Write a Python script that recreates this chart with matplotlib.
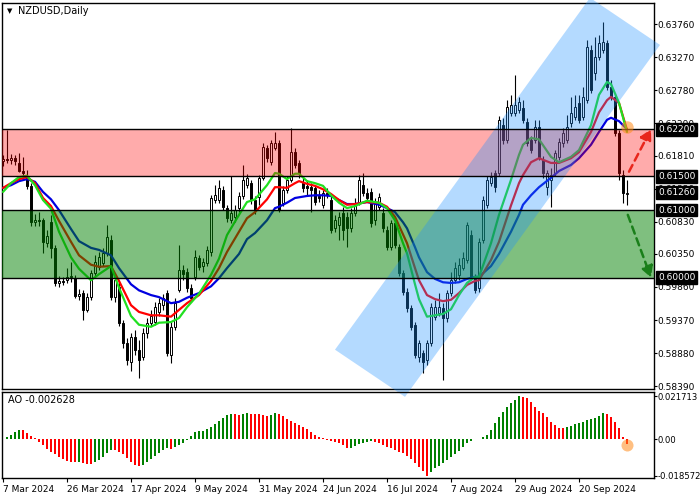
import matplotlib
matplotlib.use("Agg")
import matplotlib.pyplot as plt
import numpy as np
from matplotlib.patches import Polygon
from matplotlib.transforms import blended_transform_factory

# ---------------- data ----------------
date_labels = ["7 Mar 2024", "26 Mar 2024", "17 Apr 2024", "9 May 2024", "31 May 2024",
               "24 Jun 2024", "16 Jul 2024", "7 Aug 2024", "29 Aug 2024", "20 Sep 2024"]
date_label_bars = [0, 16, 32, 48, 64, 80, 96, 112, 128, 144]

opens = [0.6173, 0.6176, 0.6174, 0.6177, 0.6170, 0.6158, 0.6151, 0.6136, 0.6082, 0.6085,
         0.6085, 0.6051, 0.6082, 0.6044, 0.5992, 0.5995, 0.5996, 0.6001, 0.5999, 0.5973,
         0.5977, 0.5952, 0.5971, 0.6007, 0.6016, 0.6022, 0.6036, 0.6056, 0.5971, 0.5986,
         0.5933, 0.5903, 0.5875, 0.5912, 0.5893, 0.5882, 0.5918, 0.5933, 0.5934, 0.5949,
         0.5959, 0.5977, 0.5885, 0.5927, 0.5982, 0.6011, 0.6008, 0.5985, 0.6001, 0.6029,
         0.6017, 0.6022, 0.6038, 0.6115, 0.6115, 0.6130, 0.6103, 0.6085, 0.6090, 0.6103,
         0.6121, 0.6137, 0.6140, 0.6115, 0.6119, 0.6148, 0.6192, 0.6171, 0.6192, 0.6200,
         0.6111, 0.6130, 0.6145, 0.6186, 0.6170, 0.6140, 0.6136, 0.6134, 0.6133, 0.6121,
         0.6108, 0.6125, 0.6115, 0.6073, 0.6078, 0.6096, 0.6090, 0.6073, 0.6096, 0.6112,
         0.6137, 0.6125, 0.6127, 0.6085, 0.6105, 0.6096, 0.6071, 0.6045, 0.6081, 0.6045,
         0.6007, 0.5979, 0.5955, 0.5930, 0.5882, 0.5888, 0.5878, 0.5903, 0.5942, 0.5947,
         0.5955, 0.5940, 0.5977, 0.5996, 0.6004, 0.6014, 0.6026, 0.6063, 0.6001, 0.5985,
         0.6056, 0.6108, 0.6140, 0.6155, 0.6155, 0.6226, 0.6204, 0.6244, 0.6244, 0.6248,
         0.6251, 0.6231, 0.6204, 0.6204, 0.6223, 0.6174, 0.6134, 0.6145, 0.6155, 0.6179,
         0.6200, 0.6204, 0.6229, 0.6238, 0.6259, 0.6238, 0.6263, 0.6337, 0.6303, 0.6327,
         0.6337, 0.6348, 0.6283, 0.6268, 0.6214, 0.6152, 0.6124]
closes = [0.6176, 0.6174, 0.6177, 0.6173, 0.6158, 0.6155, 0.6136, 0.6082, 0.6085, 0.6084,
          0.6053, 0.6062, 0.6044, 0.5992, 0.5995, 0.5993, 0.6001, 0.6002, 0.5973, 0.5976,
          0.5952, 0.5971, 0.6007, 0.6023, 0.6030, 0.6036, 0.6060, 0.5971, 0.5996, 0.5933,
          0.5903, 0.5878, 0.5912, 0.5893, 0.5878, 0.5918, 0.5933, 0.5943, 0.5956, 0.5962,
          0.5970, 0.5888, 0.5927, 0.5962, 0.6011, 0.6005, 0.5985, 0.5970, 0.6030, 0.6016,
          0.6023, 0.6041, 0.6118, 0.6122, 0.6133, 0.6105, 0.6088, 0.6096, 0.6100, 0.6121,
          0.6145, 0.6148, 0.6115, 0.6100, 0.6148, 0.6194, 0.6177, 0.6200, 0.6200, 0.6100,
          0.6130, 0.6145, 0.6186, 0.6167, 0.6155, 0.6133, 0.6133, 0.6130, 0.6112, 0.6118,
          0.6125, 0.6122, 0.6071, 0.6085, 0.6090, 0.6071, 0.6073, 0.6096, 0.6111, 0.6145,
          0.6125, 0.6118, 0.6081, 0.6111, 0.6119, 0.6073, 0.6045, 0.6081, 0.6048, 0.6007,
          0.5979, 0.5955, 0.5927, 0.5885, 0.5903, 0.5875, 0.5903, 0.5956, 0.5956, 0.5956,
          0.5940, 0.5977, 0.5996, 0.6014, 0.6019, 0.6029, 0.6078, 0.6001, 0.5982, 0.6053,
          0.6115, 0.6145, 0.6149, 0.6134, 0.6234, 0.6204, 0.6253, 0.6256, 0.6256, 0.6260,
          0.6234, 0.6200, 0.6189, 0.6223, 0.6179, 0.6155, 0.6155, 0.6152, 0.6185, 0.6201,
          0.6214, 0.6223, 0.6244, 0.6253, 0.6234, 0.6268, 0.6342, 0.6278, 0.6327, 0.6348,
          0.6349, 0.6283, 0.6268, 0.6214, 0.6155, 0.6125, 0.6126]
highs = [0.6182, 0.6219, 0.6183, 0.6182, 0.6185, 0.6179, 0.6159, 0.6140, 0.6094, 0.6097,
         0.6088, 0.6071, 0.6093, 0.6048, 0.6002, 0.6001, 0.6014, 0.6023, 0.6004, 0.5983,
         0.5982, 0.5977, 0.6011, 0.6033, 0.6038, 0.6044, 0.6078, 0.6063, 0.6004, 0.5993,
         0.5937, 0.5910, 0.5918, 0.5922, 0.5907, 0.5925, 0.5940, 0.5952, 0.5964, 0.5970,
         0.5976, 0.5982, 0.5934, 0.5970, 0.6048, 0.6019, 0.6014, 0.5990, 0.6041, 0.6033,
         0.6029, 0.6047, 0.6122, 0.6137, 0.6145, 0.6136, 0.6108, 0.6151, 0.6108, 0.6127,
         0.6167, 0.6154, 0.6145, 0.6121, 0.6152, 0.6200, 0.6197, 0.6204, 0.6216, 0.6204,
         0.6136, 0.6151, 0.6222, 0.6192, 0.6174, 0.6148, 0.6145, 0.6140, 0.6137, 0.6130,
         0.6130, 0.6133, 0.6121, 0.6093, 0.6097, 0.6105, 0.6097, 0.6103, 0.6118, 0.6152,
         0.6155, 0.6133, 0.6133, 0.6118, 0.6125, 0.6103, 0.6076, 0.6085, 0.6085, 0.6050,
         0.6011, 0.5985, 0.5959, 0.5934, 0.5907, 0.5893, 0.5907, 0.5962, 0.5967, 0.5977,
         0.5962, 0.5982, 0.6008, 0.6023, 0.6029, 0.6038, 0.6082, 0.6071, 0.6005, 0.6059,
         0.6121, 0.6151, 0.6157, 0.6159, 0.6240, 0.6237, 0.6263, 0.6271, 0.6300, 0.6268,
         0.6263, 0.6237, 0.6210, 0.6234, 0.6234, 0.6180, 0.6159, 0.6162, 0.6189, 0.6207,
         0.6222, 0.6241, 0.6268, 0.6271, 0.6271, 0.6283, 0.6352, 0.6345, 0.6357, 0.6360,
         0.6379, 0.6352, 0.6293, 0.6274, 0.6219, 0.6159, 0.6145]
lows = [0.6165, 0.6170, 0.6168, 0.6167, 0.6157, 0.6149, 0.6131, 0.6076, 0.6076, 0.6076,
        0.6036, 0.6045, 0.6029, 0.5987, 0.5986, 0.5989, 0.5992, 0.5993, 0.5970, 0.5967,
        0.5937, 0.5949, 0.5967, 0.6002, 0.6011, 0.6017, 0.6032, 0.5967, 0.5964, 0.5928,
        0.5896, 0.5870, 0.5861, 0.5885, 0.5851, 0.5878, 0.5910, 0.5928, 0.5930, 0.5943,
        0.5952, 0.5884, 0.5873, 0.5922, 0.5979, 0.5996, 0.5979, 0.5964, 0.5996, 0.6011,
        0.6008, 0.6017, 0.6032, 0.6111, 0.6111, 0.6100, 0.6082, 0.6081, 0.6082, 0.6097,
        0.6116, 0.6133, 0.6109, 0.6094, 0.6108, 0.6145, 0.6171, 0.6167, 0.6189, 0.6097,
        0.6106, 0.6125, 0.6142, 0.6162, 0.6148, 0.6127, 0.6122, 0.6097, 0.6108, 0.6112,
        0.6103, 0.6118, 0.6066, 0.6068, 0.6056, 0.6056, 0.6045, 0.6068, 0.6091, 0.6108,
        0.6121, 0.6114, 0.6075, 0.6078, 0.6100, 0.6068, 0.6041, 0.6041, 0.6044, 0.6002,
        0.5974, 0.5949, 0.5922, 0.5881, 0.5875, 0.5858, 0.5870, 0.5898, 0.5937, 0.5943,
        0.5848, 0.5934, 0.5973, 0.5992, 0.5996, 0.6011, 0.6022, 0.5996, 0.5977, 0.5979,
        0.6051, 0.6103, 0.6136, 0.6127, 0.6151, 0.6198, 0.6200, 0.6240, 0.6240, 0.6244,
        0.6229, 0.6195, 0.6185, 0.6200, 0.6174, 0.6148, 0.6122, 0.6105, 0.6151, 0.6174,
        0.6194, 0.6200, 0.6223, 0.6234, 0.6229, 0.6234, 0.6259, 0.6274, 0.6293, 0.6323,
        0.6333, 0.6278, 0.6263, 0.6210, 0.6145, 0.6111, 0.6108]

# moving-average lines (green fast, red medium, blue slow), read at these bars
ma_bars = [0, 2, 4, 6, 8, 10, 12, 14, 17, 19, 22, 24, 27, 29, 32, 34, 37, 39, 42, 44,
           46, 49, 52, 54, 56, 59, 61, 63, 66, 68, 69, 71, 73, 74, 76, 78, 80, 82, 84, 86,
           88, 91, 94, 96, 98, 100, 101, 103, 104, 106, 108, 110, 112, 114, 116, 118, 119,
           122, 124, 127, 129, 130, 132, 134, 137, 139, 142, 144, 147, 149, 151, 152, 154, 156]
ma_green = [0.6127, 0.6140, 0.6149, 0.6151, 0.6137, 0.6115, 0.6102, 0.6068, 0.6030, 0.6013,
            0.5996, 0.6005, 0.6017, 0.5985, 0.5943, 0.5930, 0.5927, 0.5933, 0.5934, 0.5940,
            0.5956, 0.5976, 0.6004, 0.6028, 0.6063, 0.6093, 0.6112, 0.6116, 0.6137, 0.6155,
            0.6154, 0.6146, 0.6154, 0.6154, 0.6143, 0.6140, 0.6136, 0.6122, 0.6111, 0.6103,
            0.6106, 0.6114, 0.6111, 0.6103, 0.6085, 0.6051, 0.6036, 0.5990, 0.5968, 0.5942,
            0.5944, 0.5946, 0.5953, 0.5974, 0.5992, 0.6001, 0.6001, 0.6051, 0.6093, 0.6145,
            0.6182, 0.6197, 0.6207, 0.6205, 0.6179, 0.6171, 0.6179, 0.6189, 0.6226, 0.6271,
            0.6290, 0.6287, 0.6259, 0.6216]
ma_red = [0.6133, 0.6140, 0.6146, 0.6149, 0.6140, 0.6118, 0.6106, 0.6084, 0.6053, 0.6033,
          0.6019, 0.6016, 0.6017, 0.5995, 0.5959, 0.5949, 0.5944, 0.5944, 0.5942, 0.5952,
          0.5962, 0.5974, 0.5995, 0.6014, 0.6038, 0.6068, 0.6088, 0.6097, 0.6116, 0.6134,
          0.6134, 0.6133, 0.6140, 0.6143, 0.6139, 0.6136, 0.6131, 0.6124, 0.6115, 0.6108,
          0.6109, 0.6112, 0.6111, 0.6105, 0.6090, 0.6064, 0.6051, 0.6014, 0.5996, 0.5974,
          0.5968, 0.5965, 0.5967, 0.5977, 0.5989, 0.5995, 0.5996, 0.6026, 0.6053, 0.6107,
          0.6140, 0.6152, 0.6171, 0.6177, 0.6170, 0.6170, 0.6177, 0.6186, 0.6216, 0.6245,
          0.6263, 0.6268, 0.6259, 0.6219]
ma_blue = [0.6133, 0.6137, 0.6143, 0.6146, 0.6142, 0.6127, 0.6116, 0.6100, 0.6072, 0.6054,
           0.6044, 0.6041, 0.6033, 0.6014, 0.5990, 0.5981, 0.5974, 0.5971, 0.5962, 0.5964,
           0.5970, 0.5977, 0.5987, 0.5999, 0.6014, 0.6035, 0.6057, 0.6066, 0.6085, 0.6103,
           0.6105, 0.6111, 0.6118, 0.6119, 0.6121, 0.6122, 0.6122, 0.6121, 0.6115, 0.6109,
           0.6109, 0.6112, 0.6108, 0.6103, 0.6097, 0.6082, 0.6073, 0.6045, 0.6030, 0.6008,
           0.5998, 0.5993, 0.5992, 0.5993, 0.5998, 0.6001, 0.6001, 0.6017, 0.6035, 0.6068,
           0.6093, 0.6108, 0.6122, 0.6134, 0.6148, 0.6158, 0.6167, 0.6177, 0.6197, 0.6216,
           0.6234, 0.6237, 0.6232, 0.6220]

ao = [0.0002, 0.0012, 0.0020, 0.0037, 0.0047, 0.0044, 0.0029, 0.0015, 0.0003, -0.0013,
      -0.0030, -0.0052, -0.0064, -0.0076, -0.0093, -0.0103, -0.0110, -0.0115, -0.0118, -0.0116,
      -0.0120, -0.0125, -0.0127, -0.0118, -0.0105, -0.0090, -0.0070, -0.0055, -0.0058, -0.0065,
      -0.0075, -0.0095, -0.0115, -0.0130, -0.0138, -0.0130, -0.0115, -0.0100, -0.0088, -0.0072,
      -0.0058, -0.0048, -0.0052, -0.0042, -0.0030, -0.0018, -0.0005, 0.0015, 0.0035, 0.0042,
      0.0043, 0.0050, 0.0060, 0.0074, 0.0090, 0.0107, 0.0122, 0.0128, 0.0125, 0.0122,
      0.0125, 0.0130, 0.0129, 0.0127, 0.0124, 0.0120, 0.0117, 0.0123, 0.0130, 0.0127,
      0.0115, 0.0100, 0.0090, 0.0082, 0.0072, 0.0062, 0.0050, 0.0035, 0.0022, 0.0012,
      0.0005, -0.0003, -0.0010, -0.0015, -0.0022, -0.0030, -0.0047, -0.0044, -0.0034, -0.0025,
      -0.0019, -0.0013, -0.0010, -0.0013, -0.0022, -0.0030, -0.0039, -0.0047, -0.0056, -0.0064,
      -0.0073, -0.0086, -0.0103, -0.0123, -0.0143, -0.0160, -0.0186, -0.0165, -0.0148, -0.0137,
      -0.0123, -0.0106, -0.0089, -0.0076, -0.0059, -0.0039, -0.0022, -0.0010, -0.0002, 0.0002,
      0.0008, 0.0020, 0.0046, 0.0079, 0.0113, 0.0138, 0.0164, 0.0181, 0.0197, 0.0217,
      0.0214, 0.0206, 0.0189, 0.0164, 0.0143, 0.0130, 0.0113, 0.0088, 0.0071, 0.0057,
      0.0056, 0.0062, 0.0067, 0.0074, 0.0079, 0.0088, 0.0096, 0.0101, 0.0108, 0.0116,
      0.0130, 0.0125, 0.0110, 0.0088, 0.0054, 0.0012, -0.0026]

main_ticks = [0.63760, 0.63270, 0.62780, 0.62290, 0.61810, 0.61320, 0.60830, 0.60350,
              0.59860, 0.59370, 0.58880, 0.58390]
level_labels = [0.62200, 0.61500, 0.61260, 0.61000, 0.60000]
resist_zone = [0.61500, 0.62200]
support_zone = [0.60000, 0.61000]
channel_bars = [83.0, 100.5, 164.25, 146.75]
channel_prices = [0.5893, 0.5823, 0.6345, 0.6415]
up_arrow = [(156.5, 0.6157), (162.0, 0.6220)]
down_arrow = [(156.2, 0.6093), (162.0, 0.6000)]
ao_ticks = [0.021713, 0.0, -0.018572]
ao_tick_labels = ["0.021713", "0.00", "-0.018572"]
ao_last_label = "AO -0.002628"

# ---------------- figure ----------------
W, H = 700, 500
fig = plt.figure(figsize=(7, 5), dpi=100)
fig.patch.set_facecolor("white")
ax = fig.add_axes([2 / W, 1 - 389 / H, 652 / W, 386 / H])
ax2 = fig.add_axes([2 / W, 1 - 478 / H, 652 / W, 86 / H])
for a in (ax, ax2):
    a.patch.set_visible(False)
    for s in a.spines.values():
        s.set_color("black")
        s.set_linewidth(1.0)

o = np.array(opens); c = np.array(closes); hi = np.array(highs); lo = np.array(lows)
idx = np.arange(len(o))
ax.set_xlim(-0.25, 162.75)
ax.set_ylim(0.58347, 0.64072)

# candles
ax.vlines(idx, lo, hi, color="black", lw=0.8, zorder=2)
up = c >= o
bottom = np.minimum(o, c)
height = np.maximum(np.abs(c - o), 0.00005)
ax.bar(idx, height, bottom=bottom, width=0.62,
       color=np.where(up, "white", "black"), edgecolor="black", linewidth=0.7, zorder=3)

# moving averages
ax.plot(ma_bars, ma_blue, color="#0000E0", lw=1.6, zorder=4, solid_capstyle="round")
ax.plot(ma_bars, ma_red, color="#FF0000", lw=1.6, zorder=4, solid_capstyle="round")
ax.plot(ma_bars, ma_green, color="#20E020", lw=1.6, zorder=4, solid_capstyle="round")

# zones
ax.axhspan(resist_zone[0], resist_zone[1], facecolor="#FF0000", alpha=0.33, lw=0, zorder=5)
ax.axhspan(support_zone[0], support_zone[1], facecolor="#008000", alpha=0.5, lw=0, zorder=5)
for lv in resist_zone + support_zone:
    ax.axhline(lv, color="black", lw=1.0, zorder=6)

# channel
poly = Polygon(list(zip(channel_bars, channel_prices)), closed=True, facecolor="#1E90FF",
               alpha=0.33, edgecolor="none", zorder=5, clip_on=False)
ax.add_patch(poly)

# highlight circle at line ends
ax.scatter([156], [0.6224], s=80, color="#FF8C1A", alpha=0.55, zorder=7, lw=0, clip_on=False)

# arrows
ax.annotate("", xy=up_arrow[1], xytext=up_arrow[0],
            arrowprops=dict(arrowstyle="-|>,head_length=0.55,head_width=0.3", color="#E8261C",
                            lw=1.8, linestyle=(0, (3, 2)), mutation_scale=12,
                            shrinkA=0, shrinkB=0),
            annotation_clip=False, zorder=8)
ax.annotate("", xy=down_arrow[1], xytext=down_arrow[0],
            arrowprops=dict(arrowstyle="-|>,head_length=0.55,head_width=0.3", color="#1A7F1A",
                            lw=1.8, linestyle=(0, (3, 2)), mutation_scale=12,
                            shrinkA=0, shrinkB=0),
            annotation_clip=False, zorder=8)

# price axis
ax.yaxis.tick_right()
ax.set_yticks(main_ticks)
ax.set_yticklabels([f"{t:.5f}" for t in main_ticks])
ax.tick_params(axis="y", labelsize=6.5, length=2, width=0.8, pad=0.6, colors="black")
ax.set_xticks([])

tr = blended_transform_factory(ax.transAxes, ax.transData)
for lv in level_labels:
    ax.text(1.0 + 4 / 652, lv, f"{lv:.5f}", transform=tr, ha="left", va="center",
            color="white", fontsize=6.5, zorder=20, clip_on=False,
            bbox=dict(boxstyle="square,pad=0.2", facecolor="black", edgecolor="black"))

# AO panel
aov = np.array(ao)
prev = np.concatenate([[aov[0] - 1], aov[:-1]])
ao_colors = np.where(aov >= prev, "#008000", "#FF0000")
ax2.bar(idx, aov, width=0.7, color=ao_colors, zorder=3)
ax2.scatter([idx[-1]], [aov[-1] - 0.0006], s=75, color="#FF8C1A", alpha=0.55, lw=0, zorder=4)
ax2.set_xlim(-0.25, 162.75)
ax2.set_ylim(-0.01973, 0.02378)
ax2.yaxis.tick_right()
ax2.set_yticks(ao_ticks)
ax2.set_yticklabels(ao_tick_labels)
ax2.tick_params(axis="y", labelsize=6.1, length=2, width=0.8, pad=0.6)
ax2.set_xticks(date_label_bars)
ax2.set_xticklabels(date_labels)
ax2.tick_params(axis="x", labelsize=6.5, length=3, width=0.8, pad=2)
for lab in ax2.get_xticklabels():
    lab.set_ha("left")

# titles
fig.text(18 / W, 1 - 11 / H, "NZDUSD,Daily", fontsize=7, va="center", ha="left")
fig.text(7 / W, 1 - 11 / H, "\u25BC", fontsize=5, va="center", ha="left")
fig.text(8 / W, 1 - 400 / H, ao_last_label, fontsize=7, va="center", ha="left")

fig.savefig("out.png", dpi=100, facecolor="white")
